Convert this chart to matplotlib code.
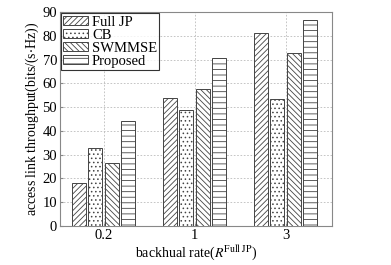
import numpy as np
import matplotlib
matplotlib.use("Agg")
import matplotlib.pyplot as plt

plt.rcParams['font.family'] = ['Liberation Serif', 'DejaVu Serif']
plt.rcParams['mathtext.fontset'] = 'stix'
plt.rcParams['hatch.linewidth'] = 0.6

rates = ["0.2", "1", "3"]
series = ["Full JP", "CB", "SWMMSE", "Proposed"]
full_jp = [18.3, 54.0, 81.0]
cb = [32.6, 48.7, 53.4]
swmmse = [26.7, 57.4, 72.9]
proposed = [44.0, 70.8, 86.8]
hatches = ["//////", "....", "\\\\\\\\\\\\", "---"]

fig = plt.figure(figsize=(3.91, 2.65), dpi=100)
ax = fig.add_axes([0.153, 0.147, 0.696, 0.808])

x = np.arange(len(rates))
w = 0.155
step = 0.18
for i, vals in enumerate([full_jp, cb, swmmse, proposed]):
    ax.bar(x + (i - 1.5) * step, vals, w, color="white", edgecolor="#444444",
           linewidth=0.7, hatch=hatches[i], label=series[i], zorder=3)

ax.set_xlim(-0.48, 2.51)
ax.set_ylim(0, 90)
ax.set_yticks(range(0, 91, 10))
ax.set_xticks(x)
ax.set_xticklabels(rates)
ax.tick_params(labelsize=10.5, length=2, direction="in", color="#888888", pad=2)
ax.grid(True, linestyle=(0, (2, 2)), color="#bbbbbb", linewidth=0.6, zorder=0)
for s in ax.spines.values():
    s.set_color("#888888")
    s.set_linewidth(0.8)

ax.set_ylabel("access link throughput(bits/(s$\\cdot$Hz))", fontsize=10, labelpad=1)
ax.set_xlabel("backhual rate($R^{\\mathrm{Full\\ JP}}$)", fontsize=10, labelpad=1)

leg = ax.legend(loc="upper left", fontsize=10.5, frameon=True, fancybox=False,
                edgecolor="black", borderpad=0.15, labelspacing=0.0,
                handlelength=1.7, handleheight=0.55, handletextpad=0.25,
                borderaxespad=0.1)
leg.get_frame().set_linewidth(0.8)

fig.savefig("out.png", dpi=100)
